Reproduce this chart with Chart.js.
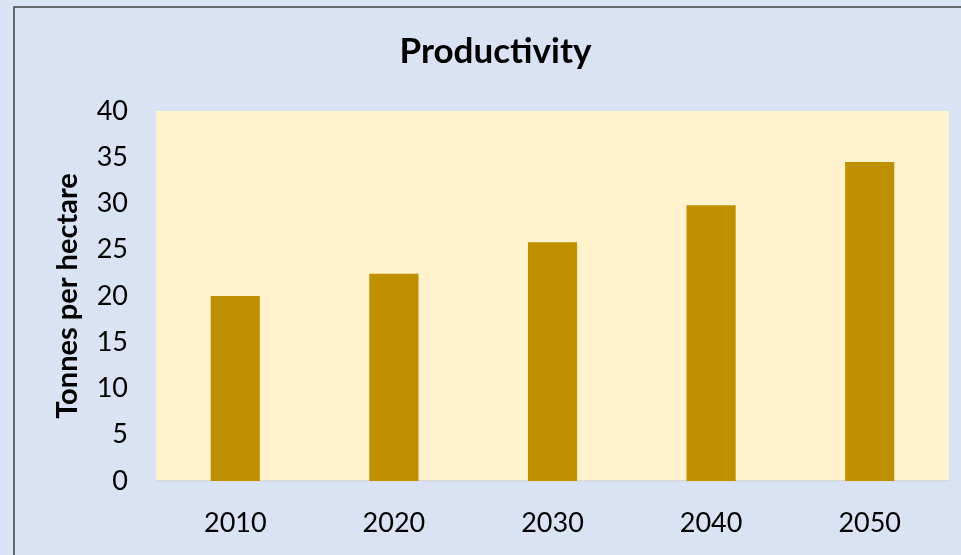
<!DOCTYPE html>
<html>
<head>
<meta charset="utf-8">
<script src="https://cdn.jsdelivr.net/npm/chart.js@4"></script>
<style>
    html, body { margin: 0; padding: 0; background: #dae3f3; }
    #wrap { width: 961px; height: 555px; }
</style>
</head>
<body>
<div id="wrap"><canvas id="graficoBarras" width="961" height="555"></canvas></div>
<script>
const anos = ['2010', '2020', '2030', '2040', '2050'];
const produtividade = [20, 22.4, 25.8, 29.8, 34.5];
const ticksY = [0, 5, 10, 15, 20, 25, 30, 35, 40];

const corFundo = '#dae3f3';
const corArea = '#fff2cc';
const corBarra = '#bf9000';
const fonte = 'Lato, "Open Sans", sans-serif';

// fundo azul com borda e area do grafico amarela
const fundoPlugin = {
    id: 'fundo',
    afterLayout: function (chart) {
        // titulo um pouco deslocado para a direita
        if (chart.titleBlock) chart.titleBlock.left += 42;
    },
    beforeDraw: function (chart) {
        const ctx = chart.ctx;
        const area = chart.chartArea;
        ctx.save();
        ctx.fillStyle = corFundo;
        ctx.fillRect(0, 0, chart.width, chart.height);
        ctx.strokeStyle = '#404040';
        ctx.lineWidth = 1.5;
        ctx.beginPath();
        ctx.moveTo(14, chart.height);
        ctx.lineTo(14, 7);
        ctx.lineTo(chart.width, 7);
        ctx.stroke();
        ctx.fillStyle = corArea;
        ctx.fillRect(area.left, area.top, area.right - area.left, area.bottom - area.top);
        ctx.restore();
    }
};

window.onload = function () {
    const ctx = document.getElementById('graficoBarras').getContext('2d');
    new Chart(ctx, {
        type: 'bar',
        data: {
            labels: anos,
            datasets: [{
                data: produtividade,
                backgroundColor: corBarra,
                barPercentage: 0.31,
                categoryPercentage: 1
            }]
        },
        options: {
            responsive: false,
            animation: false,
            layout: { padding: { top: 0, right: 12, bottom: 0, left: 0 } },
            plugins: {
                legend: { display: false },
                tooltip: { enabled: false },
                title: {
                    display: true,
                    text: 'Productivity',
                    color: '#000',
                    font: { family: fonte, size: 35, weight: 'bold' },
                    padding: { top: 31, bottom: 38 }
                }
            },
            scales: {
                x: {
                    grid: { display: false, drawTicks: false },
                    border: { display: true, color: '#d9d9d9', width: 1.5 },
                    ticks: {
                        color: '#000',
                        font: { family: fonte, size: 27 },
                        padding: 26
                    },
                    afterFit: function (scale) { scale.height = 74; }
                },
                y: {
                    min: 0,
                    max: 40,
                    afterBuildTicks: function (scale) {
                        scale.ticks = ticksY.map(v => ({ value: v }));
                    },
                    grid: { display: false, drawTicks: false },
                    border: { display: false },
                    ticks: {
                        color: '#000',
                        font: { family: fonte, size: 27 },
                        padding: 28
                    },
                    title: {
                        display: true,
                        text: 'Tonnes per hectare',
                        color: '#000',
                        font: { family: fonte, size: 29, weight: 'bold' },
                        padding: { top: 50, bottom: 0 }
                    },
                    afterFit: function (scale) { scale.width = 156; }
                }
            }
        },
        plugins: [fundoPlugin]
    });
};
</script>
</body>
</html>
